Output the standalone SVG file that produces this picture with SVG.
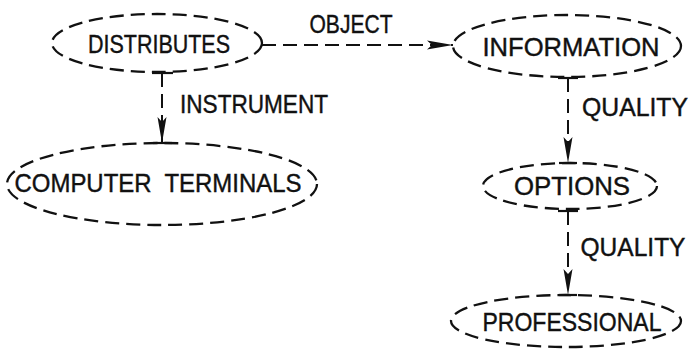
<svg xmlns="http://www.w3.org/2000/svg" width="691" height="356" viewBox="0 0 691 356">
  <style>
    .node ellipse { fill: none; stroke: #111; stroke-width: 2.3; stroke-dasharray: 14 7; }
    .lbl { font-family: "Liberation Sans", Arial, sans-serif; font-size: 25px; fill: #111; stroke: #111; stroke-width: 0.4; text-anchor: middle; }
    .edge { fill: none; stroke: #111; stroke-width: 2; stroke-dasharray: 14 7; }
    .bar { stroke: #111; stroke-width: 2.2; }
  </style>
  <defs>
    <marker id="arrow" viewBox="0 0 26 10" refX="26" refY="5" markerWidth="26" markerHeight="10" markerUnits="userSpaceOnUse" orient="auto">
      <path d="M0,0.5 L26,5 L0,9.5 L5,5 Z" fill="#111"/>
    </marker>
  </defs>

  <rect width="691" height="356" fill="#fff"/>

  <!-- nodes -->
  <g id="distributes" class="node">
    <ellipse cx="157" cy="43" rx="105" ry="29"/>
    <text class="lbl" x="159" y="53" textLength="142" lengthAdjust="spacingAndGlyphs">DISTRIBUTES</text>
  </g>
  <g id="information" class="node">
    <ellipse cx="567" cy="46" rx="114" ry="31"/>
    <text class="lbl" x="571" y="56" textLength="177" lengthAdjust="spacingAndGlyphs">INFORMATION</text>
  </g>
  <g id="computer-terminals" class="node">
    <ellipse cx="162" cy="184" rx="155" ry="41"/>
    <text class="lbl" x="158" y="192" textLength="287" lengthAdjust="spacingAndGlyphs" xml:space="preserve">COMPUTER  TERMINALS</text>
  </g>
  <g id="options" class="node">
    <ellipse cx="570" cy="186" rx="87" ry="23"/>
    <text class="lbl" x="572" y="195" textLength="116" lengthAdjust="spacingAndGlyphs">OPTIONS</text>
  </g>
  <g id="professional" class="node">
    <ellipse cx="566" cy="321" rx="115" ry="26"/>
    <text class="lbl" x="572" y="331" textLength="179" lengthAdjust="spacingAndGlyphs">PROFESSIONAL</text>
  </g>

  <!-- connectors -->
  <g id="connectors">
    <!-- DISTRIBUTES -> INFORMATION (OBJECT) -->
    <path class="edge" d="M262,45 L453,45" marker-end="url(#arrow)"/>
    <text class="lbl" x="351" y="33" textLength="83" lengthAdjust="spacingAndGlyphs">OBJECT</text>

    <!-- DISTRIBUTES -> COMPUTER TERMINALS (INSTRUMENT) -->
    <line class="bar" x1="152" y1="73" x2="173" y2="73"/>
    <path class="edge" d="M162,73 L162,143" marker-end="url(#arrow)"/>
    <line class="bar" x1="153" y1="143" x2="172" y2="143"/>
    <text class="lbl" x="254" y="113" textLength="148" lengthAdjust="spacingAndGlyphs">INSTRUMENT</text>

    <!-- INFORMATION -> OPTIONS (QUALITY) -->
    <line class="bar" x1="558" y1="78" x2="578" y2="78"/>
    <path class="edge" d="M568,78 L568,163" marker-end="url(#arrow)"/>
    <line class="bar" x1="559" y1="163" x2="577" y2="163"/>
    <text class="lbl" x="635" y="116" textLength="106" lengthAdjust="spacingAndGlyphs">QUALITY</text>

    <!-- OPTIONS -> PROFESSIONAL (QUALITY) -->
    <line class="bar" x1="558" y1="211" x2="578" y2="211"/>
    <path class="edge" d="M568,211 L568,295" marker-end="url(#arrow)"/>
    <line class="bar" x1="559" y1="295" x2="577" y2="295"/>
    <text class="lbl" x="633" y="256" textLength="105" lengthAdjust="spacingAndGlyphs">QUALITY</text>
  </g>
</svg>
